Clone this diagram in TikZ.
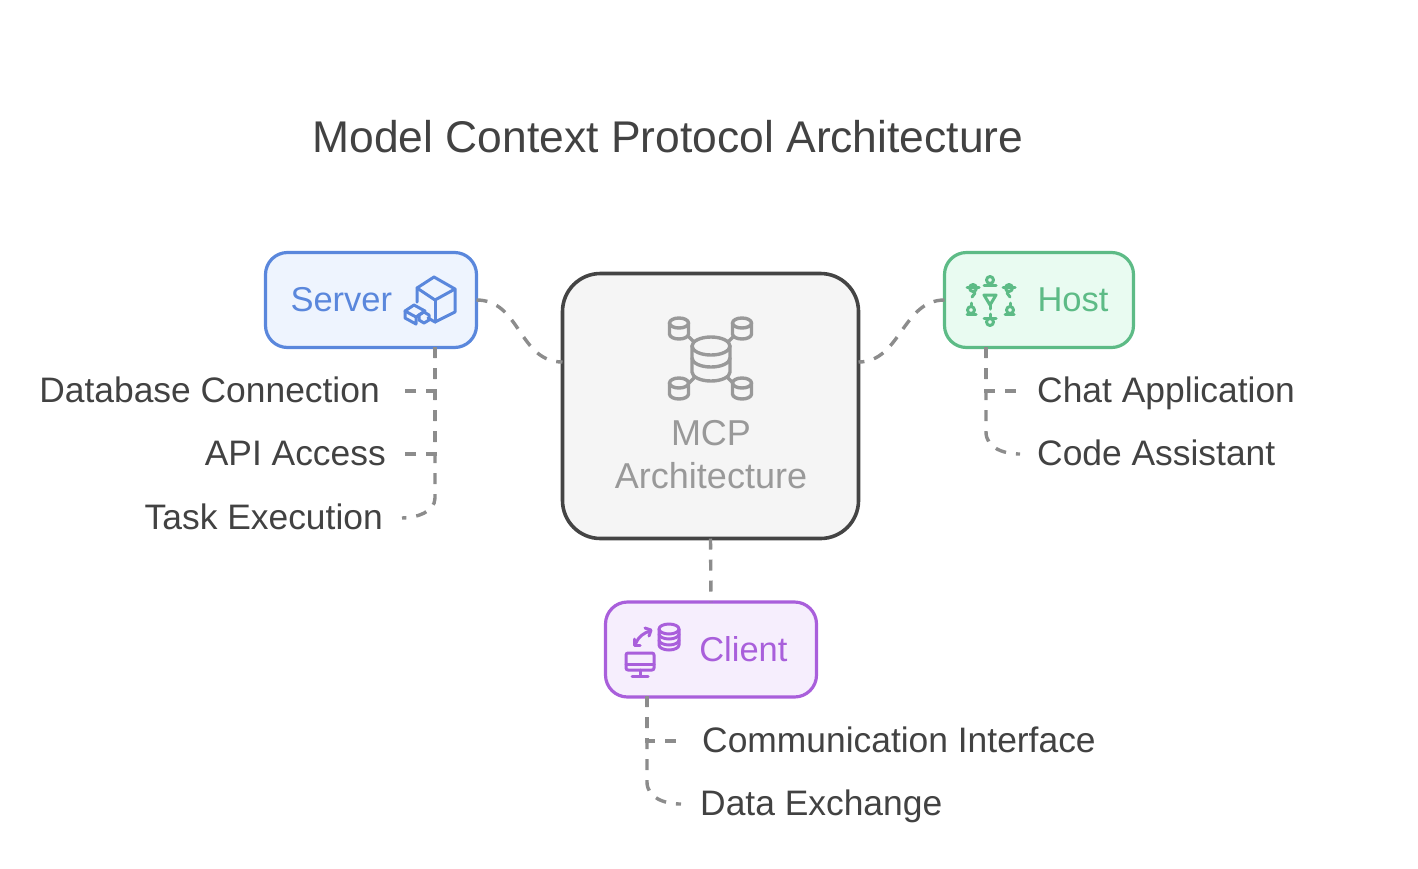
\documentclass[tikz,border=0pt]{standalone}
\usepackage{fontspec}
\setmainfont{Liberation Sans}
\usetikzlibrary{shapes.geometric}

\definecolor{srvblue}{HTML}{5A87DC}
\definecolor{srvfill}{HTML}{EEF4FE}
\definecolor{hostgreen}{HTML}{5DBB86}
\definecolor{hostfill}{HTML}{E9FBF1}
\definecolor{clipurple}{HTML}{A95FDB}
\definecolor{clifill}{HTML}{F6EEFD}
\definecolor{mcpedge}{HTML}{444444}
\definecolor{mcpfill}{HTML}{F5F5F5}
\definecolor{mcpgrey}{HTML}{999999}
\definecolor{linkgrey}{HTML}{8C8C8C}
\definecolor{textgrey}{HTML}{424242}

% small database drum: centre x, top y, half width, body height, half rim
\newcommand{\dbdrum}[5]{
  \draw (#1,#2) ellipse [x radius=#3, y radius=#5];
  \draw (#1-#3,#2) -- (#1-#3,#2+#4) arc [start angle=180, end angle=0, x radius=#3, y radius=#5] -- (#1+#3,#2);
}

\begin{document}
\begin{tikzpicture}[
  x=1pt, y=-1pt,
  box/.style={rectangle, draw, rounded corners=22pt, line width=3.2pt, outer sep=0pt, inner ysep=0pt,
    minimum height=95pt, font=\fontsize{34.5}{34.5}\selectfont},
  leaf/.style={inner sep=0pt, text=textgrey, text height=26pt, text depth=4pt, font=\fontsize{35.4}{35.4}\selectfont},
  link/.style={linkgrey, line width=3.4pt, dash pattern=on 11pt off 10pt},
  glyph/.style={line width=3pt, line join=round, line cap=round}
]
  \useasboundingbox (0,0) rectangle (1418,868);

  % Title
  \node[text=textgrey, font=\fontsize{44.4}{44.4}\selectfont] (title) at (668,136.5) {Model Context Protocol Architecture};

  % Main boxes
  \node[box, draw=mcpedge, fill=mcpfill, line width=3.6pt, rounded corners=38pt, minimum width=296pt, minimum height=265pt] (mcp) at (710.5,406) {};
  \node[text=mcpgrey, align=center, font=\fontsize{36}{43}\selectfont] (mcplabel) at (711,455) {MCP\\Architecture};
  \node[box, draw=srvblue, fill=srvfill, text=srvblue, text width=161pt, inner xsep=25pt, align=left] (server) at (371,300) {Server};
  \node[box, draw=hostgreen, fill=hostfill, text=hostgreen, text width=139pt, inner xsep=25pt, align=right] (host) at (1039,300) {Host};
  \node[box, draw=clipurple, fill=clifill, text=clipurple, text width=153pt, inner xsep=29pt, align=right] (client) at (711,649.5) {Client};

  % Leaf labels
  \node[leaf, anchor=east] (dbconn) at (380,391) {Database Connection};
  \node[leaf, anchor=east] (apiacc) at (386,454) {API Access};
  \node[leaf, anchor=east] (taskex) at (383,518) {Task Execution};
  \node[leaf, anchor=west] (chatapp) at (1037,391) {Chat Application};
  \node[leaf, anchor=west] (codeas) at (1037,454) {Code Assistant};
  \node[leaf, anchor=west] (comint) at (702,741) {Communication Interface};
  \node[leaf, anchor=west] (dataex) at (700,804) {Data Exchange};

  % Connector ends on the boxes
  \coordinate (mcpW) at ([yshift=44pt]mcp.west);
  \coordinate (mcpE) at ([yshift=44pt]mcp.east);
  \coordinate (srvS) at (435,347);
  \coordinate (hostS) at (986,347);
  \coordinate (cliS) at (647,696);

  % Links to the centre
  \draw[link] (server.east) .. controls +(44,0) and +(-44,0) .. (mcpW);
  \draw[link] (host.west) .. controls +(-42,0) and +(42,0) .. (mcpE);
  \draw[link] (mcp.south) -- (client.north);

  % Server branches
  \draw[link] (srvS) |- ([xshift=23pt]dbconn.east);
  \draw[link] (srvS) |- ([xshift=17pt]apiacc.east);
  \draw[link] (srvS) -- ++(0,151) .. controls +(0,14) and +(14,0) .. ([xshift=19pt]taskex.east);

  % Host branches
  \draw[link] (hostS) |- ([xshift=-19pt]chatapp.west);
  \draw[link] (hostS) -- ++(0,85) .. controls +(0,16) and +(-16,0) .. ([xshift=-17pt]codeas.west);

  % Client branches
  \draw[link] (cliS) |- ([xshift=-22pt]comint.west);
  \draw[link] (cliS) -- ++(0,86) .. controls +(0,16) and +(-16,0) .. ([xshift=-19pt]dataex.west);

  % MCP icon
  \begin{scope}[glyph, mcpgrey, line width=3.4pt]
    \dbdrum{711}{346}{19}{26}{9}
    \draw (692,358) arc [start angle=180, end angle=0, x radius=19, y radius=9];
    \foreach \cx/\cy in {679/323, 742/323, 679/383, 742/383} {
      \dbdrum{\cx}{\cy}{9.5}{11}{5}
    }
    \draw (689,337) -- (694,342);
    \draw (733,337) -- (728,342);
    \draw (689,383) -- (694,378);
    \draw (733,383) -- (728,378);
  \end{scope}

  % Server icon
  \begin{scope}[glyph, srvblue]
    \draw (417,302) -- (417,288) -- (434,277) -- (455,289) -- (455,312) -- (435,322) -- (428,318);
    \draw (417,288) -- (435,300) -- (455,289);
    \draw (435,300) -- (435,322);
    \draw (405,311) -- (414,305) -- (425,311) -- (416,317) -- cycle;
    \draw (405,311) -- (405,318) -- (416,324) -- (416,317);
    \draw (424,312) -- (429,315) -- (429,320) -- (424,323) -- (419,320) -- (419,315) -- cycle;
  \end{scope}

  % Host icon
  \begin{scope}[glyph, hostgreen]
    \draw (990,280) circle [radius=3.5];
    \draw (984,285) -- (996,285);
    \draw (973,288) circle [radius=3.5];
    \draw (967,287) -- (979,287);
    \draw (975,293) -- (972,297);
    \draw (1009,288) circle [radius=3.5];
    \draw (1003,287) -- (1015,287);
    \draw (1007,293) -- (1010,297);
    \draw (971,310) circle [radius=3.5];
    \draw (971,303) -- (971,306);
    \draw (967,314) -- (976,314);
    \draw (1010,310) circle [radius=3.5];
    \draw (1010,303) -- (1010,306);
    \draw (1005,314) -- (1014,314);
    \draw (990,322) circle [radius=3.5];
    \draw (984,318) -- (996,318);
    \draw (990,314) -- (990,318);
    \draw (984,295) -- (996,295) -- (990,305) -- cycle;
    \draw (990,305) -- (990,309);
  \end{scope}

  % Client icon
  \begin{scope}[glyph, clipurple]
    \draw[rounded corners=2pt] (626,653) rectangle (654,670);
    \draw (626,664) -- (654,664);
    \draw (640,670) -- (640,675);
    \draw (632,676) -- (648,676);
    \dbdrum{669}{629}{10}{16}{5}
    \draw (659,634) arc [start angle=180, end angle=0, x radius=10, y radius=5];
    \draw (659,640) arc [start angle=180, end angle=0, x radius=10, y radius=5];
    \draw (636,643) .. controls (639,636) and (644,633) .. (650,631);
    \draw (634,639) -- (634,645) -- (640,645);
    \draw (645,628) -- (651,630) -- (649,636);
  \end{scope}
\end{tikzpicture}
\end{document}
